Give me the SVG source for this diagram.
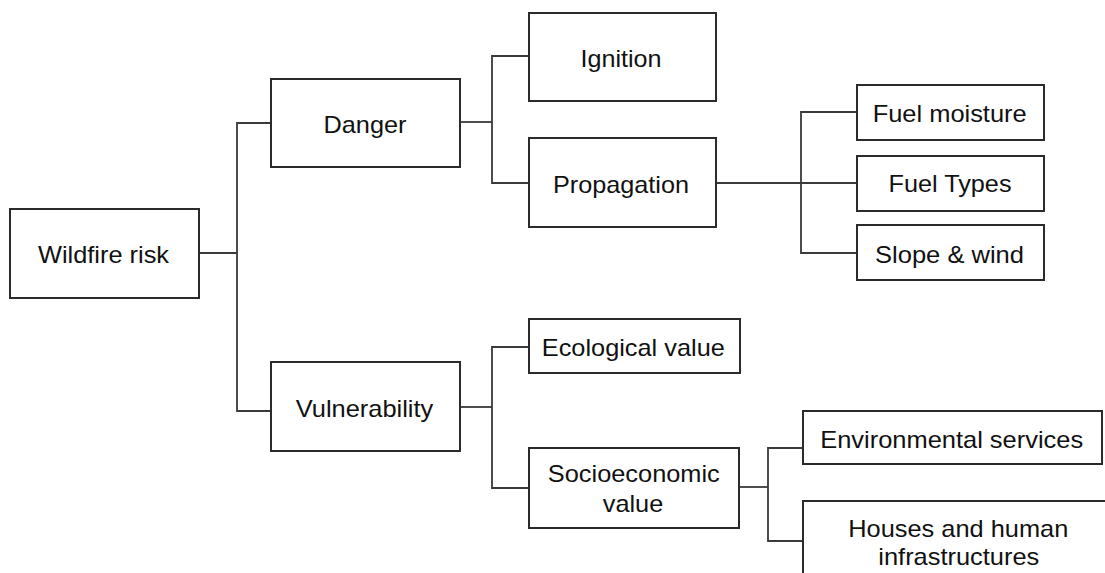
<svg xmlns="http://www.w3.org/2000/svg" width="1105" height="573" viewBox="0 0 1105 573">
<style>
.box{fill:#fff;stroke:#2b2b2b;stroke-width:2}
.lbl{font-family:"Liberation Sans",Arial,sans-serif;font-size:24px;fill:#111;text-anchor:middle}
.con{fill:none;stroke:#3a3a3a;stroke-width:1.8}
</style>
<rect width="1105" height="573" fill="#fff"/>
<g id="connectors">
<path class="con" d="M199 253H237"/>
<path class="con" d="M271 123H237V411H271"/>
<path class="con" d="M460 122H492"/>
<path class="con" d="M529 56H492V183H529"/>
<path class="con" d="M716 183H857"/>
<path class="con" d="M857 112H801V253H857"/>
<path class="con" d="M460 407H492"/>
<path class="con" d="M529 347H492V488H529"/>
<path class="con" d="M739 487H768"/>
<path class="con" d="M803 448H768V541H803"/>
</g>
<g id="wildfire-risk"><rect class="box" x="10" y="209" width="189" height="89"/><text class="lbl" x="103.5" y="262.5" textLength="131" lengthAdjust="spacingAndGlyphs">Wildfire risk</text></g>
<g id="danger"><rect class="box" x="271" y="79" width="189" height="88"/><text class="lbl" x="365" y="132.5" textLength="83" lengthAdjust="spacingAndGlyphs">Danger</text></g>
<g id="ignition"><rect class="box" x="529" y="13" width="187" height="88"/><text class="lbl" x="621" y="66.5" textLength="81" lengthAdjust="spacingAndGlyphs">Ignition</text></g>
<g id="propagation"><rect class="box" x="529" y="138" width="187" height="89"/><text class="lbl" x="621" y="192.5" textLength="136" lengthAdjust="spacingAndGlyphs">Propagation</text></g>
<g id="fuel-moisture"><rect class="box" x="857" y="85" width="187" height="55"/><text class="lbl" x="949.7" y="122" textLength="154" lengthAdjust="spacingAndGlyphs">Fuel moisture</text></g>
<g id="fuel-types"><rect class="box" x="857" y="156" width="187" height="55"/><text class="lbl" x="950" y="191.7" textLength="123" lengthAdjust="spacingAndGlyphs">Fuel Types</text></g>
<g id="slope-wind"><rect class="box" x="857" y="225" width="187" height="55"/><text class="lbl" x="949.5" y="262.5" textLength="149" lengthAdjust="spacingAndGlyphs">Slope &amp; wind</text></g>
<g id="vulnerability"><rect class="box" x="271" y="362" width="189" height="89"/><text class="lbl" x="364.5" y="416.5" textLength="137.5" lengthAdjust="spacingAndGlyphs">Vulnerability</text></g>
<g id="ecological-value"><rect class="box" x="529" y="319" width="211" height="54"/><text class="lbl" x="633.3" y="356" textLength="183" lengthAdjust="spacingAndGlyphs">Ecological value</text></g>
<g id="socioeconomic-value"><rect class="box" x="529" y="448" width="210" height="80"/><text class="lbl" x="633.8" y="481.5" textLength="172" lengthAdjust="spacingAndGlyphs">Socioeconomic</text><text class="lbl" x="633" y="511.5" textLength="60.5" lengthAdjust="spacingAndGlyphs">value</text></g>
<g id="environmental-services"><rect class="box" x="803" y="411" width="299" height="53"/><text class="lbl" x="951.7" y="448.3" textLength="263" lengthAdjust="spacingAndGlyphs">Environmental services</text></g>
<g id="houses"><rect class="box" x="803" y="501" width="311" height="84"/><text class="lbl" x="958.3" y="536.5" textLength="220" lengthAdjust="spacingAndGlyphs">Houses and human</text><text class="lbl" x="958.8" y="565" textLength="161" lengthAdjust="spacingAndGlyphs">infrastructures</text></g>
</svg>
